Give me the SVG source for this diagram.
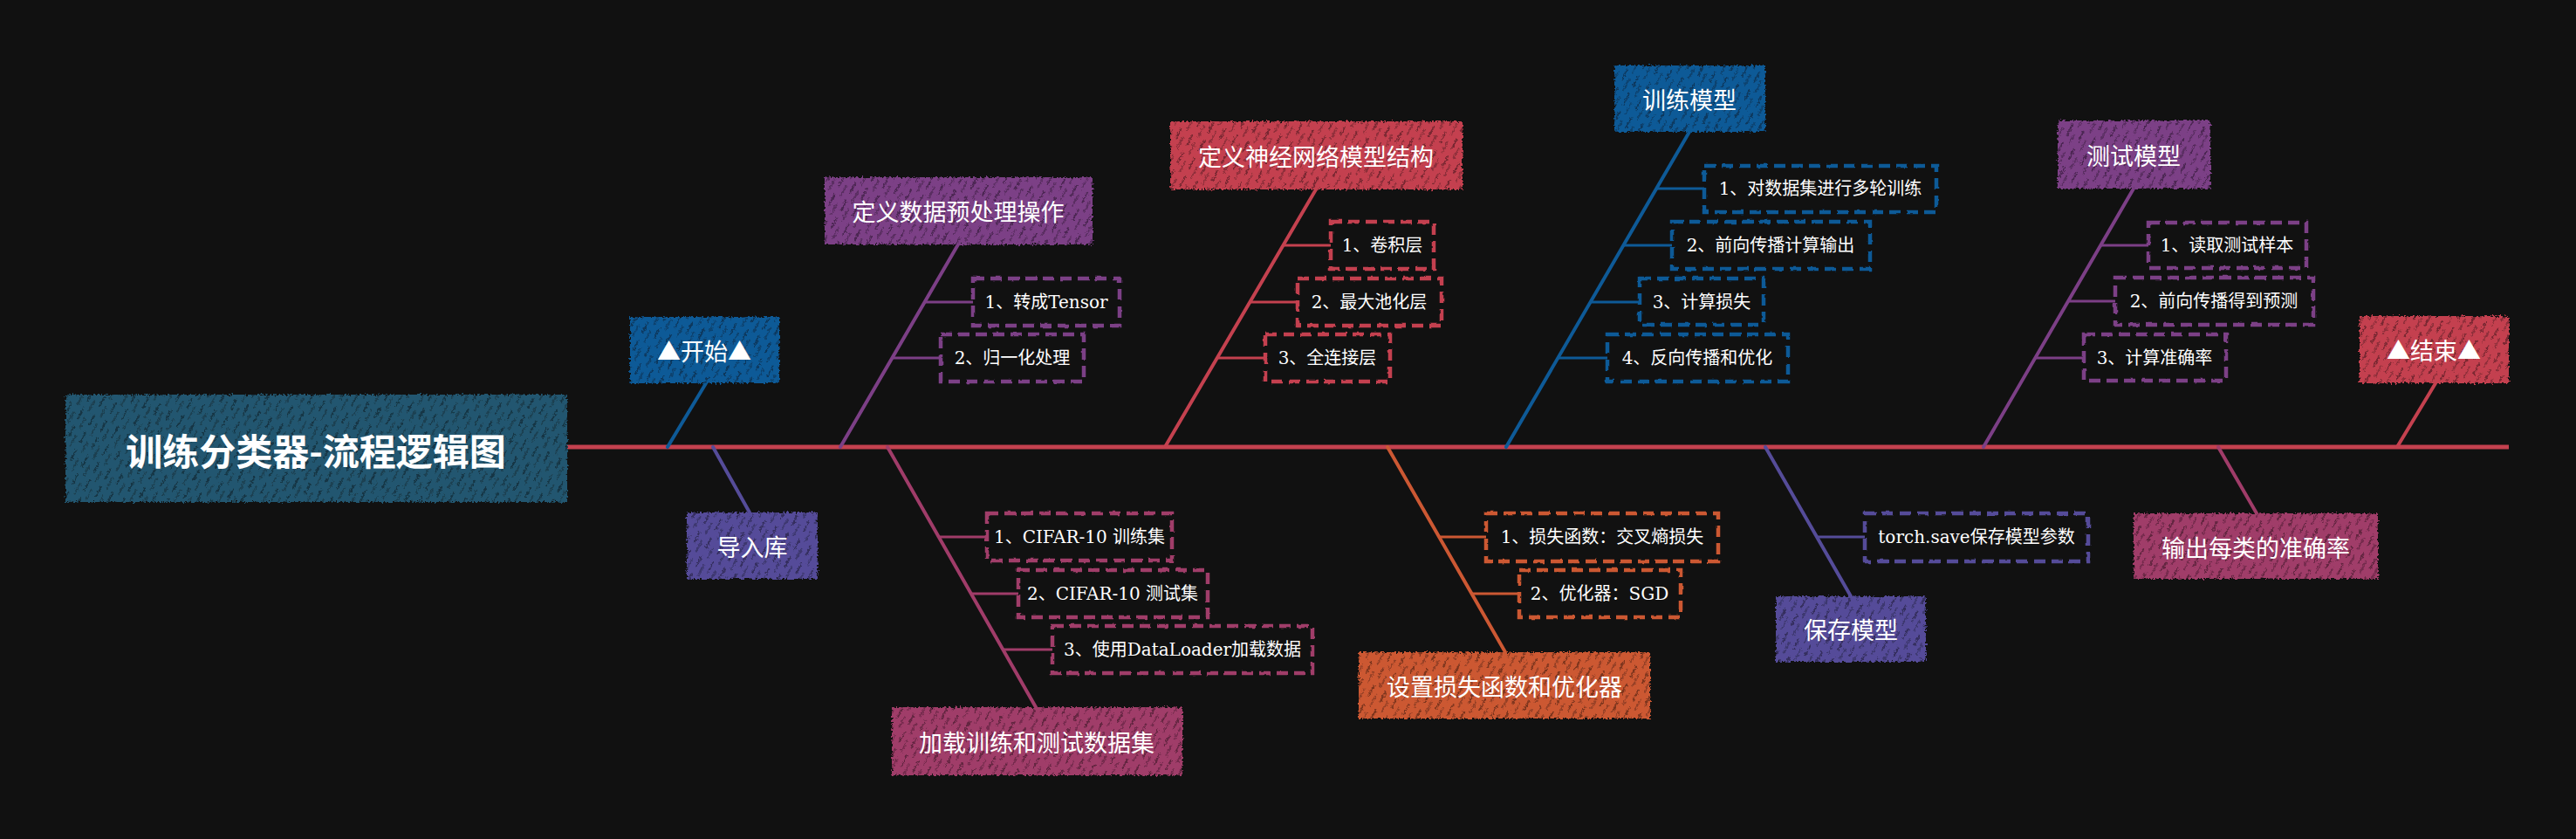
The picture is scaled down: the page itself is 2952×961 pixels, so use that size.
<svg xmlns="http://www.w3.org/2000/svg" width="2952" height="961" viewBox="0 0 2952 961">
<style>
.t{font-family:"Noto Sans CJK SC","Noto Sans",sans-serif;font-size:27px;fill:#fff;text-anchor:middle;dominant-baseline:central}
.tt{font-family:"Noto Sans CJK SC","Noto Sans",sans-serif;font-size:42px;font-weight:bold;fill:#fff;text-anchor:middle;dominant-baseline:central}
.s{font-family:"DejaVu Serif","Noto Sans CJK SC",serif;font-size:20px;fill:#fff;text-anchor:middle;dominant-baseline:central}
.d{fill:none;stroke-width:4.5;stroke-dasharray:13 7}
.ln{fill:none;stroke-width:4;stroke-linecap:round}
.br{fill:none;stroke-width:3}
.blue{stroke:#0E5A97}.fblue{fill:#0E5A97}
.purple{stroke:#7C3F86}.fpurple{fill:#7C3F86}
.mag{stroke:#A03C69}.fmag{fill:#A03C69}
.red{stroke:#C4414F}.fred{fill:#C4414F}
.orange{stroke:#CC5833}.forange{fill:#CC5833}
.indigo{stroke:#554C99}.findigo{fill:#554C99}
.fteal{fill:#24576F}
.hatch{fill:url(#h)}
</style>
<defs>
<pattern id="h" width="15" height="23" patternUnits="userSpaceOnUse" patternTransform="rotate(28)">
<line x1="4" y1="0" x2="4" y2="14" stroke="#000" stroke-opacity="0.55" stroke-width="1.4"/>
<line x1="11" y1="8" x2="11" y2="23" stroke="#000" stroke-opacity="0.45" stroke-width="1.2"/>
</pattern>
<filter id="r" x="-5%" y="-10%" width="110%" height="120%">
<feTurbulence type="fractalNoise" baseFrequency="0.4" numOctaves="2" seed="4"/>
<feDisplacementMap in="SourceGraphic" scale="6" xChannelSelector="R" yChannelSelector="G"/>
</filter>
<filter id="r2" x="-5%" y="-10%" width="110%" height="120%">
<feTurbulence type="fractalNoise" baseFrequency="0.15" numOctaves="1" seed="7"/>
<feDisplacementMap in="SourceGraphic" scale="3" xChannelSelector="R" yChannelSelector="G"/>
</filter>
</defs>
<rect width="2952" height="961" fill="#111111"/>

<g id="connectors">
<line class="red" x1="650" y1="512" x2="2875" y2="512" stroke-width="5"/>
<line class="ln blue" x1="765" y1="512" x2="809" y2="439"/>
<line class="ln indigo" x1="817" y1="512" x2="859" y2="587"/>
<line class="ln purple" x1="963" y1="512" x2="1098" y2="280"/>
<line class="br purple" x1="1060" y1="346" x2="1115" y2="346"/>
<line class="br purple" x1="1022" y1="410" x2="1078" y2="410"/>
<line class="ln mag" x1="1017" y1="512" x2="1187" y2="810"/>
<line class="br mag" x1="1076" y1="615" x2="1131" y2="615"/>
<line class="br mag" x1="1113" y1="680" x2="1167" y2="680"/>
<line class="br mag" x1="1149" y1="744" x2="1206" y2="744"/>
<line class="ln red" x1="1335" y1="512" x2="1508" y2="217"/>
<line class="br red" x1="1470" y1="281" x2="1525" y2="281"/>
<line class="br red" x1="1432" y1="346" x2="1487" y2="346"/>
<line class="br red" x1="1395" y1="410" x2="1450" y2="410"/>
<line class="ln orange" x1="1590" y1="512" x2="1725" y2="747"/>
<line class="br orange" x1="1649" y1="615" x2="1703" y2="615"/>
<line class="br orange" x1="1686" y1="680" x2="1741" y2="680"/>
<line class="ln blue" x1="1726" y1="512" x2="1936" y2="151"/>
<line class="br blue" x1="1898" y1="216" x2="1953" y2="216"/>
<line class="br blue" x1="1860" y1="281" x2="1916" y2="281"/>
<line class="br blue" x1="1823" y1="346" x2="1879" y2="346"/>
<line class="br blue" x1="1785" y1="410" x2="1842" y2="410"/>
<line class="ln indigo" x1="2023" y1="512" x2="2121" y2="683"/>
<line class="br indigo" x1="2082" y1="615" x2="2137" y2="615"/>
<line class="ln purple" x1="2273" y1="512" x2="2445" y2="216"/>
<line class="br purple" x1="2407" y1="281" x2="2462" y2="281"/>
<line class="br purple" x1="2370" y1="345" x2="2424" y2="345"/>
<line class="br purple" x1="2332" y1="410" x2="2388" y2="410"/>
<line class="ln mag" x1="2542" y1="512" x2="2586" y2="588"/>
<line class="ln red" x1="2747" y1="512" x2="2791" y2="439"/>
</g>

<g id="title">
<g filter="url(#r)"><rect class="fteal" x="75" y="452" width="575" height="123"/><rect class="hatch" x="75" y="452" width="575" height="123"/></g>
<text class="tt" x="362" y="514">训练分类器-流程逻辑图</text>
</g>

<g id="start">
<g filter="url(#r)"><rect class="fblue" x="722" y="363" width="171" height="76"/><rect class="hatch" x="722" y="363" width="171" height="76"/></g>
<text class="t" x="807" y="401">▲开始▲</text>
</g>

<g id="import">
<g filter="url(#r)"><rect class="findigo" x="787" y="587" width="150" height="76"/><rect class="hatch" x="787" y="587" width="150" height="76"/></g>
<text class="t" x="862" y="625">导入库</text>
</g>

<g id="preprocess">
<g filter="url(#r)"><rect class="fpurple" x="945" y="203" width="307" height="77"/><rect class="hatch" x="945" y="203" width="307" height="77"/></g>
<text class="t" x="1098" y="241">定义数据预处理操作</text>
<rect class="d purple" filter="url(#r2)" x="1115" y="319" width="168" height="54"/>
<text class="s" x="1199" y="346">1、转成Tensor</text>
<rect class="d purple" filter="url(#r2)" x="1078" y="383" width="164" height="54"/>
<text class="s" x="1160" y="410">2、归一化处理</text>
</g>

<g id="dataset">
<g filter="url(#r)"><rect class="fmag" x="1022" y="810" width="333" height="78"/><rect class="hatch" x="1022" y="810" width="333" height="78"/></g>
<text class="t" x="1188" y="849">加载训练和测试数据集</text>
<rect class="d mag" filter="url(#r2)" x="1131" y="588" width="212" height="54"/>
<text class="s" x="1237" y="615">1、CIFAR-10 训练集</text>
<rect class="d mag" filter="url(#r2)" x="1167" y="653" width="217" height="54"/>
<text class="s" x="1275" y="680">2、CIFAR-10 测试集</text>
<rect class="d mag" filter="url(#r2)" x="1206" y="717" width="298" height="54"/>
<text class="s" x="1355" y="744">3、使用DataLoader加载数据</text>
</g>

<g id="network">
<g filter="url(#r)"><rect class="fred" x="1341" y="139" width="335" height="78"/><rect class="hatch" x="1341" y="139" width="335" height="78"/></g>
<text class="t" x="1508" y="178">定义神经网络模型结构</text>
<rect class="d red" filter="url(#r2)" x="1525" y="254" width="118" height="54"/>
<text class="s" x="1584" y="281">1、卷积层</text>
<rect class="d red" filter="url(#r2)" x="1487" y="319" width="165" height="54"/>
<text class="s" x="1569" y="346">2、最大池化层</text>
<rect class="d red" filter="url(#r2)" x="1450" y="383" width="143" height="54"/>
<text class="s" x="1521" y="410">3、全连接层</text>
</g>

<g id="loss">
<g filter="url(#r)"><rect class="forange" x="1557" y="747" width="334" height="76"/><rect class="hatch" x="1557" y="747" width="334" height="76"/></g>
<text class="t" x="1724" y="785">设置损失函数和优化器</text>
<rect class="d orange" filter="url(#r2)" x="1703" y="588" width="266" height="55"/>
<text class="s" x="1836" y="615">1、损失函数：交叉熵损失</text>
<rect class="d orange" filter="url(#r2)" x="1741" y="653" width="185" height="54"/>
<text class="s" x="1833" y="680">2、优化器：SGD</text>
</g>

<g id="train">
<g filter="url(#r)"><rect class="fblue" x="1850" y="75" width="173" height="76"/><rect class="hatch" x="1850" y="75" width="173" height="76"/></g>
<text class="t" x="1936" y="113">训练模型</text>
<rect class="d blue" filter="url(#r2)" x="1953" y="190" width="266" height="53"/>
<text class="s" x="2086" y="216">1、对数据集进行多轮训练</text>
<rect class="d blue" filter="url(#r2)" x="1916" y="254" width="227" height="54"/>
<text class="s" x="2029" y="281">2、前向传播计算输出</text>
<rect class="d blue" filter="url(#r2)" x="1879" y="319" width="142" height="53"/>
<text class="s" x="1950" y="346">3、计算损失</text>
<rect class="d blue" filter="url(#r2)" x="1842" y="383" width="207" height="54"/>
<text class="s" x="1945" y="410">4、反向传播和优化</text>
</g>

<g id="save">
<g filter="url(#r)"><rect class="findigo" x="2035" y="683" width="172" height="75"/><rect class="hatch" x="2035" y="683" width="172" height="75"/></g>
<text class="t" x="2121" y="720">保存模型</text>
<rect class="d indigo" filter="url(#r2)" x="2137" y="588" width="256" height="55"/>
<text class="s" x="2265" y="615">torch.save保存模型参数</text>
</g>

<g id="test">
<g filter="url(#r)"><rect class="fpurple" x="2358" y="138" width="175" height="78"/><rect class="hatch" x="2358" y="138" width="175" height="78"/></g>
<text class="t" x="2445" y="177">测试模型</text>
<rect class="d purple" filter="url(#r2)" x="2462" y="255" width="181" height="52"/>
<text class="s" x="2552" y="281">1、读取测试样本</text>
<rect class="d purple" filter="url(#r2)" x="2424" y="318" width="227" height="54"/>
<text class="s" x="2537" y="345">2、前向传播得到预测</text>
<rect class="d purple" filter="url(#r2)" x="2388" y="383" width="163" height="53"/>
<text class="s" x="2469" y="410">3、计算准确率</text>
</g>

<g id="output">
<g filter="url(#r)"><rect class="fmag" x="2445" y="588" width="280" height="75"/><rect class="hatch" x="2445" y="588" width="280" height="75"/></g>
<text class="t" x="2585" y="626">输出每类的准确率</text>
</g>

<g id="end">
<g filter="url(#r)"><rect class="fred" x="2704" y="362" width="171" height="77"/><rect class="hatch" x="2704" y="362" width="171" height="77"/></g>
<text class="t" x="2789" y="400">▲结束▲</text>
</g>
</svg>
